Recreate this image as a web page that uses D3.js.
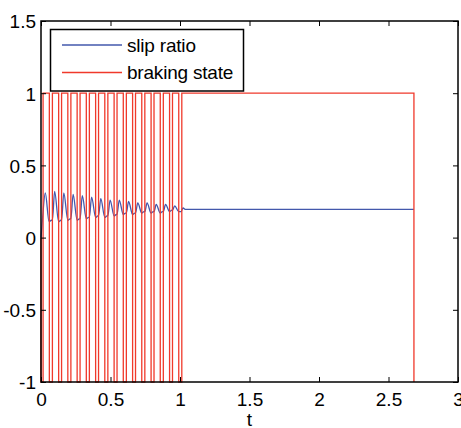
<!DOCTYPE html>
<html>
<head>
<meta charset="utf-8">
<script src="https://cdn.jsdelivr.net/npm/d3@7"></script>
<style>
  html, body { margin: 0; padding: 0; background: #ffffff; }
  svg { display: block; }
  text { font-family: "Liberation Sans", Arial, sans-serif; }
</style>
</head>
<body>
<svg id="chart" width="461" height="428"></svg>
<script>
// ---- data ----
const xTicks = [0, 0.5, 1, 1.5, 2, 2.5, 3];
const xTickLabels = ["0", "0.5", "1", "1.5", "2", "2.5", "3"];
const yTicks = [-1, -0.5, 0, 0.5, 1, 1.5];
const yTickLabels = ["-1", "-0.5", "0", "0.5", "1", "1.5"];
const seriesNames = ["slip ratio", "braking state"];
const xLabel = "t";

// slip ratio samples (t, value)
const slipT = [0, 0.010, 0.031, 0.058, 0.075,
  0.082, 0.098, 0.127, 0.143,
  0.148, 0.164, 0.193, 0.209,
  0.215, 0.231, 0.260, 0.276,
  0.281, 0.297, 0.326, 0.342,
  0.348, 0.364, 0.393, 0.409,
  0.414, 0.430, 0.459, 0.475,
  0.481, 0.497, 0.526, 0.542,
  0.547, 0.563, 0.592, 0.608,
  0.614, 0.630, 0.659, 0.675,
  0.680, 0.696, 0.725, 0.741,
  0.747, 0.763, 0.792, 0.808,
  0.813, 0.829, 0.858, 0.874,
  0.880, 0.896, 0.925, 0.941,
  0.946, 0.962, 0.991, 1.007,
  1.022, 1.040, 2.683];
const slipV = [0, 0.12, 0.31, 0.11, 0.12,
  0.12, 0.32, 0.11, 0.12,
  0.12, 0.31, 0.12, 0.13,
  0.13, 0.30, 0.12, 0.13,
  0.13, 0.29, 0.13, 0.14,
  0.14, 0.28, 0.14, 0.15,
  0.15, 0.27, 0.14, 0.15,
  0.15, 0.26, 0.15, 0.16,
  0.16, 0.26, 0.16, 0.17,
  0.17, 0.25, 0.16, 0.17,
  0.17, 0.24, 0.17, 0.18,
  0.18, 0.24, 0.17, 0.18,
  0.18, 0.23, 0.17, 0.18,
  0.18, 0.23, 0.18, 0.19,
  0.19, 0.22, 0.18, 0.18,
  0.205, 0.195, 0.195];

// braking state switching instants (t, new state)
const brakeT = [0, 0, 0.015, 0.060, 0.082, 0.127, 0.148, 0.193, 0.215, 0.260,
  0.281, 0.326, 0.348, 0.393, 0.414, 0.459, 0.481, 0.526, 0.547, 0.592,
  0.614, 0.659, 0.680, 0.725, 0.747, 0.792, 0.813, 0.858, 0.880, 0.925,
  0.946, 0.991, 1.013, 2.683];
const brakeV = [0, -1, 1, -1, 1, -1, 1, -1, 1, -1,
  1, -1, 1, -1, 1, -1, 1, -1, 1, -1,
  1, -1, 1, -1, 1, -1, 1, -1, 1, -1,
  1, -1, 1, -1];

// ---- layout ----
const svg = d3.select("#chart");
const L = 41, R = 458, T = 21, B = 382;
const x = d3.scaleLinear().domain([0, 3]).range([L, R]);
const y = d3.scaleLinear().domain([-1, 1.5]).range([B, T]);

const blue = "#4358ac";
const red = "#f0392b";

const slipData = slipT.map((t, i) => [t, slipV[i]]);
const brakeData = brakeT.map((t, i) => [t, brakeV[i]]);

svg.append("path")
  .datum(slipData)
  .attr("fill", "none")
  .attr("stroke", blue)
  .attr("stroke-width", 1.3)
  .attr("d", d3.line().curve(d3.curveMonotoneX).x(d => x(d[0])).y(d => y(d[1])));

svg.append("path")
  .datum(brakeData)
  .attr("fill", "none")
  .attr("stroke", red)
  .attr("stroke-width", 1.3)
  .attr("d", d3.line().curve(d3.curveStepAfter).x(d => x(d[0])).y(d => y(d[1])));

// axes (inward ticks on all four sides)
const fmtX = (d, i) => xTickLabels[i];
const fmtY = (d, i) => yTickLabels[i];

function styleAxis(g) {
  g.selectAll(".domain").remove();
  g.selectAll(".tick line").attr("stroke", "#000").attr("stroke-width", 1);
  g.selectAll(".tick text")
    .attr("fill", "#000")
    .style("font-size", "19px")
    .style("font-family", "'Liberation Sans', Arial, sans-serif");
}

svg.append("g")
  .attr("transform", `translate(0,${B})`)
  .call(d3.axisBottom(x).tickValues(xTicks).tickFormat(fmtX).tickSize(-5).tickPadding(6))
  .call(styleAxis)
  .call(g => g.selectAll(".tick text").attr("dy", "0.95em"));

svg.append("g")
  .attr("transform", `translate(0,${T})`)
  .call(d3.axisTop(x).tickValues(xTicks).tickFormat("").tickSize(-5))
  .call(styleAxis);

svg.append("g")
  .attr("transform", `translate(${L},0)`)
  .call(d3.axisLeft(y).tickValues(yTicks).tickFormat(fmtY).tickSize(-5).tickPadding(5))
  .call(styleAxis)
  .call(g => g.selectAll(".tick text").attr("dy", "0.36em"));

svg.append("g")
  .attr("transform", `translate(${R},0)`)
  .call(d3.axisRight(y).tickValues(yTicks).tickFormat("").tickSize(-5))
  .call(styleAxis);

// box
svg.append("rect")
  .attr("x", L).attr("y", T)
  .attr("width", R - L).attr("height", B - T)
  .attr("fill", "none")
  .attr("stroke", "#000")
  .attr("stroke-width", 1.5);

// x label
svg.append("text")
  .attr("x", (L + R) / 2)
  .attr("y", 426)
  .attr("text-anchor", "middle")
  .style("font-size", "19px")
  .text(xLabel);

// legend
const leg = svg.append("g");
leg.append("rect")
  .attr("x", 50.5).attr("y", 29.5)
  .attr("width", 193).attr("height", 61.5)
  .attr("fill", "#fff")
  .attr("stroke", "#000")
  .attr("stroke-width", 1.5);
const legColors = [blue, red];
const legY = [45, 72.5];
seriesNames.forEach((name, i) => {
  leg.append("line")
    .attr("x1", 62).attr("x2", 122)
    .attr("y1", legY[i]).attr("y2", legY[i])
    .attr("stroke", legColors[i]).attr("stroke-width", 1.3);
  leg.append("text")
    .attr("x", 127)
    .attr("y", legY[i] + 6.5)
    .style("font-size", "19px")
    .style("letter-spacing", "-0.2px")
    .text(name);
});
</script>
</body>
</html>
